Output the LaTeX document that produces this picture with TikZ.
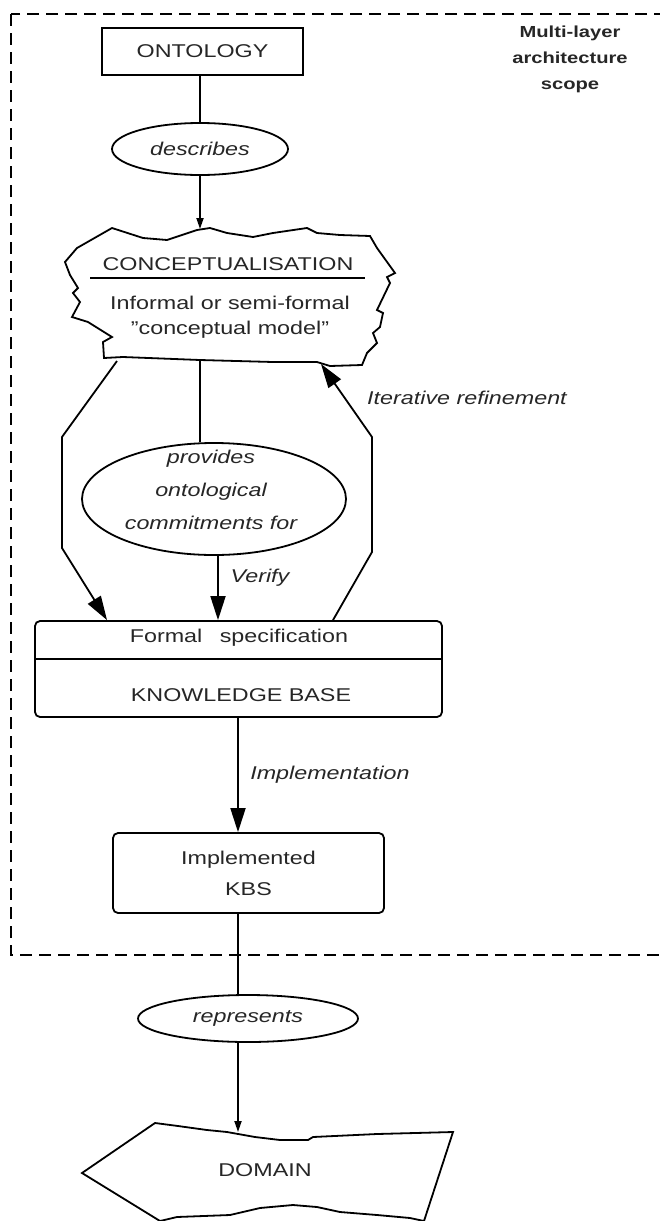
\documentclass[tikz,border=0pt]{standalone}
\usepackage{fontspec}
\setmainfont{Liberation Sans}[FakeStretch=1.26]
\usetikzlibrary{shapes.geometric,arrows.meta}
\begin{document}
\begin{tikzpicture}[x=1pt,y=-1pt,
  line width=1.8pt,
  every node/.style={font=\fontsize{18.5}{26}\selectfont, text=black!85, inner sep=0pt},
  box/.style={draw, rectangle},
  roundbox/.style={draw, rectangle, rounded corners=5pt},
  oval/.style={draw, ellipse, inner sep=0pt},
  lbl/.style={font=\fontsize{18.5}{26}\selectfont\itshape},
  bigarrow/.style={-{Triangle[length=24pt,width=15pt]}},
  smallarrow/.style={-{Triangle[length=11pt,width=7pt]}},
  frame/.style={dash pattern=on 12pt off 7pt, line width=2pt},
  outline/.style={line join=miter}
]
\useasboundingbox (0,0) rectangle (659,1221);

% scope frame of the multi-layer architecture
\draw[frame] (11,14) rectangle (661,955);
\node[font=\bfseries\fontsize{16}{26}\selectfont, align=center] (scope) at (570,59)
  {Multi-layer\\architecture\\scope};

% ontology
\node[box, minimum width=201pt, minimum height=47pt] (onto) at (202.5,51.5) {ONTOLOGY};
\node[oval, lbl, minimum width=176pt, minimum height=52pt] (desc) at (200,149) {describes};

% conceptualisation (irregular outline)
\draw[outline, fill=white] (65,262) -- (77,248) -- (112,228) -- (143,238) -- (167,240)
  -- (197,230) -- (210,228) -- (227,233) -- (253,237) -- (273,233) -- (307,228)
  -- (317,233) -- (340,235) -- (370,236) -- (377,248) -- (395,273) -- (387,277)
  -- (390,283) -- (377,310) -- (383,313) -- (380,327) -- (373,333) -- (377,343)
  -- (367,353) -- (362,365) -- (330,366) -- (317,362) -- (273,362) -- (200,360)
  -- (123,357) -- (104,358) -- (103,342) -- (112,337) -- (88,322) -- (72,317)
  -- (80,302) -- (73,293) -- (78,288) -- (70,275) -- cycle;
\node (cname) at (228,264) {CONCEPTUALISATION};
\draw (90,278) -- (365,278);
\node[align=center, font=\fontsize{18.5}{25}\selectfont] (cdesc) at (230,317.5)
  {Informal or semi-formal\\"conceptual model"};
\coordinate (ctop) at (200,229);
\coordinate (cbotL) at (117,361);
\coordinate (cbotM) at (200,360);
\coordinate (cbotR) at (321,364);

% ontological commitments
\node[oval, minimum width=264pt, minimum height=112pt] (prov) at (214,499) {};
\node[lbl, align=center, font=\fontsize{18.5}{33}\selectfont\itshape] (provtext) at (211,490)
  {provides\\ontological\\commitments for};

% formal specification / knowledge base
\node[roundbox, minimum width=407pt, minimum height=96pt] (formal) at (238.5,669) {};
\coordinate (divy) at (0,659);
\draw (formal.west |- divy) -- (formal.east |- divy);
\node (ftitle) at (239,638) {Formal\hspace{11pt} specification};
\node (kb) at (241,695) {KNOWLEDGE BASE};

% implemented system
\node[roundbox, align=center, font=\fontsize{18.5}{31}\selectfont,
  minimum width=271pt, minimum height=80pt] (kbs) at (248.5,873) {Implemented\\KBS};
\node[oval, lbl, minimum width=220pt, minimum height=47pt] (repr) at (248,1018.5) {represents};

% domain
\draw[outline, fill=white] (82,1173) -- (155,1123) -- (178,1126) -- (207,1130)
  -- (227,1132) -- (255,1137) -- (280,1140) -- (308,1140) -- (313,1137)
  -- (377,1134) -- (453,1132) -- (424,1221) -- (410,1218) -- (377,1215)
  -- (340,1212) -- (317,1207) -- (293,1205) -- (260,1208) -- (230,1215)
  -- (177,1217) -- (160,1221) -- cycle;
\node (dname) at (265,1170) {DOMAIN};
\coordinate (dtop) at (238,1132);

% labels on connectors
\node[lbl] (verify) at (260,578) {Verify};
\node[lbl] (iter) at (467,398) {Iterative refinement};
\node[lbl] (impl) at (330,775) {Implementation};

% connectors
\coordinate (vx) at (218,0);
\coordinate (lx) at (107,0);
\coordinate (rx) at (333,0);
\coordinate (ix) at (238,0);
\coordinate (l1) at (62,437);
\coordinate (l2) at (62,548);
\coordinate (r1) at (372,552);
\coordinate (r2) at (372,437);

\draw (onto.south -| desc.north) -- (desc.north);
\draw[smallarrow] (desc.south) -- (ctop);
\draw (cbotM) -- (prov.north -| cbotM);
\draw[bigarrow] (prov.south -| vx) -- (formal.north -| vx);
\draw[bigarrow] (cbotL) -- (l1) -- (l2) -- (formal.north -| lx);
\draw[bigarrow] (formal.north -| rx) -- (r1) -- (r2) -- (cbotR);
\draw[bigarrow] (formal.south -| ix) -- (kbs.north -| ix);
\draw (kbs.south -| ix) -- (repr.north -| ix);
\draw[smallarrow] (repr.south -| ix) -- (dtop);
\end{tikzpicture}
\end{document}
